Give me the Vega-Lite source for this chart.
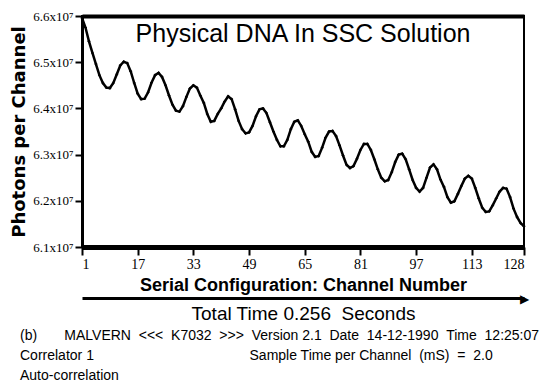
{
  "$schema": "https://vega.github.io/schema/vega-lite/v6.json",
  "width": 442,
  "height": 231,
  "autosize": {"type": "none"},
  "padding": {"left": 82, "top": 16, "right": 25, "bottom": 145},
  "background": "white",
  "datasets": {
    "counts": [
      {"channel": 1, "photons": 65960000}, {"channel": 2, "photons": 65750000}, {"channel": 3, "photons": 65450000}, {"channel": 4, "photons": 65200000},
      {"channel": 5, "photons": 64960000}, {"channel": 6, "photons": 64720000}, {"channel": 7, "photons": 64550000}, {"channel": 8, "photons": 64450000},
      {"channel": 9, "photons": 64440000}, {"channel": 10, "photons": 64550000}, {"channel": 11, "photons": 64740000}, {"channel": 12, "photons": 64930000},
      {"channel": 13, "photons": 65010000}, {"channel": 14, "photons": 64980000}, {"channel": 15, "photons": 64800000}, {"channel": 16, "photons": 64550000},
      {"channel": 17, "photons": 64320000}, {"channel": 18, "photons": 64200000}, {"channel": 19, "photons": 64210000}, {"channel": 20, "photons": 64350000},
      {"channel": 21, "photons": 64560000}, {"channel": 22, "photons": 64720000}, {"channel": 23, "photons": 64770000}, {"channel": 24, "photons": 64680000},
      {"channel": 25, "photons": 64500000}, {"channel": 26, "photons": 64280000}, {"channel": 27, "photons": 64080000}, {"channel": 28, "photons": 63950000},
      {"channel": 29, "photons": 63930000}, {"channel": 30, "photons": 64050000}, {"channel": 31, "photons": 64250000}, {"channel": 32, "photons": 64430000},
      {"channel": 33, "photons": 64500000}, {"channel": 34, "photons": 64450000}, {"channel": 35, "photons": 64280000}, {"channel": 36, "photons": 64120000},
      {"channel": 37, "photons": 63880000}, {"channel": 38, "photons": 63710000}, {"channel": 39, "photons": 63730000}, {"channel": 40, "photons": 63880000},
      {"channel": 41, "photons": 64000000}, {"channel": 42, "photons": 64150000}, {"channel": 43, "photons": 64260000}, {"channel": 44, "photons": 64200000},
      {"channel": 45, "photons": 63980000}, {"channel": 46, "photons": 63730000}, {"channel": 47, "photons": 63550000}, {"channel": 48, "photons": 63460000},
      {"channel": 49, "photons": 63480000}, {"channel": 50, "photons": 63620000}, {"channel": 51, "photons": 63830000}, {"channel": 52, "photons": 63980000},
      {"channel": 53, "photons": 64000000}, {"channel": 54, "photons": 63900000}, {"channel": 55, "photons": 63700000}, {"channel": 56, "photons": 63500000},
      {"channel": 57, "photons": 63320000}, {"channel": 58, "photons": 63180000}, {"channel": 59, "photons": 63180000}, {"channel": 60, "photons": 63320000},
      {"channel": 61, "photons": 63550000}, {"channel": 62, "photons": 63710000}, {"channel": 63, "photons": 63740000}, {"channel": 64, "photons": 63620000},
      {"channel": 65, "photons": 63440000}, {"channel": 66, "photons": 63280000}, {"channel": 67, "photons": 63060000}, {"channel": 68, "photons": 62950000},
      {"channel": 69, "photons": 62970000}, {"channel": 70, "photons": 63150000}, {"channel": 71, "photons": 63370000}, {"channel": 72, "photons": 63500000},
      {"channel": 73, "photons": 63510000}, {"channel": 74, "photons": 63400000}, {"channel": 75, "photons": 63200000}, {"channel": 76, "photons": 62980000},
      {"channel": 77, "photons": 62780000}, {"channel": 78, "photons": 62710000}, {"channel": 79, "photons": 62750000}, {"channel": 80, "photons": 62910000},
      {"channel": 81, "photons": 63100000}, {"channel": 82, "photons": 63230000}, {"channel": 83, "photons": 63230000}, {"channel": 84, "photons": 63100000},
      {"channel": 85, "photons": 62900000}, {"channel": 86, "photons": 62680000}, {"channel": 87, "photons": 62500000}, {"channel": 88, "photons": 62420000},
      {"channel": 89, "photons": 62450000}, {"channel": 90, "photons": 62620000}, {"channel": 91, "photons": 62840000}, {"channel": 92, "photons": 63000000},
      {"channel": 93, "photons": 63020000}, {"channel": 94, "photons": 62900000}, {"channel": 95, "photons": 62680000}, {"channel": 96, "photons": 62450000},
      {"channel": 97, "photons": 62280000}, {"channel": 98, "photons": 62200000}, {"channel": 99, "photons": 62280000}, {"channel": 100, "photons": 62500000},
      {"channel": 101, "photons": 62720000}, {"channel": 102, "photons": 62790000}, {"channel": 103, "photons": 62680000}, {"channel": 104, "photons": 62460000},
      {"channel": 105, "photons": 62300000}, {"channel": 106, "photons": 62080000}, {"channel": 107, "photons": 61960000}, {"channel": 108, "photons": 61990000},
      {"channel": 109, "photons": 62150000}, {"channel": 110, "photons": 62320000}, {"channel": 111, "photons": 62480000}, {"channel": 112, "photons": 62540000},
      {"channel": 113, "photons": 62480000}, {"channel": 114, "photons": 62280000}, {"channel": 115, "photons": 62050000}, {"channel": 116, "photons": 61850000},
      {"channel": 117, "photons": 61760000}, {"channel": 118, "photons": 61770000}, {"channel": 119, "photons": 61900000}, {"channel": 120, "photons": 62050000},
      {"channel": 121, "photons": 62200000}, {"channel": 122, "photons": 62280000}, {"channel": 123, "photons": 62260000}, {"channel": 124, "photons": 62080000},
      {"channel": 125, "photons": 61830000}, {"channel": 126, "photons": 61650000}, {"channel": 127, "photons": 61520000}, {"channel": 128, "photons": 61450000}
    ],
    "heading": [{"label": "Physical DNA In SSC Solution"}]
  },
  "title": {
    "text": "(b)\u00a0\u00a0\u00a0\u00a0\u00a0\u00a0\u00a0MALVERN \u00a0<<< \u00a0K7032 \u00a0>>> \u00a0Version 2.1 \u00a0Date \u00a014-12-1990 \u00a0Time \u00a012:25:07",
    "subtitle": [
      "\u00a0\u00a0\u00a0\u00a0\u00a0\u00a0\u00a0\u00a0\u00a0\u00a0\u00a0Correlator 1\u00a0\u00a0\u00a0\u00a0\u00a0\u00a0\u00a0\u00a0\u00a0\u00a0\u00a0\u00a0\u00a0\u00a0\u00a0\u00a0\u00a0\u00a0\u00a0\u00a0\u00a0\u00a0\u00a0\u00a0\u00a0\u00a0\u00a0\u00a0\u00a0\u00a0\u00a0\u00a0\u00a0\u00a0\u00a0\u00a0\u00a0\u00a0\u00a0\u00a0Sample Time per Channel \u00a0(mS) \u00a0= \u00a02.0",
      "\u00a0\u00a0\u00a0\u00a0\u00a0\u00a0\u00a0\u00a0\u00a0\u00a0\u00a0Auto-correlation"
    ],
    "orient": "bottom",
    "anchor": "start",
    "frame": "group",
    "dx": -62,
    "offset": 6,
    "font": "Liberation Sans",
    "fontSize": 14,
    "fontWeight": "normal",
    "color": "black",
    "subtitleFont": "Liberation Sans",
    "subtitleFontSize": 14,
    "subtitleColor": "black",
    "subtitlePadding": 6,
    "subtitleLineHeight": 20
  },
  "config": {
    "view": {"stroke": "black", "strokeWidth": 2},
    "axis": {"grid": false, "domainColor": "black", "tickColor": "black", "labelColor": "black", "titleColor": "black"}
  },
  "resolve": {"scale": {"x": "independent"}, "axis": {"x": "independent"}},
  "layer": [
    {
      "data": {"name": "counts"},
      "mark": {"type": "line", "color": "black", "strokeWidth": 2.5, "interpolate": "linear"},
      "encoding": {
        "x": {
          "field": "channel", "type": "quantitative",
          "scale": {"domain": [1, 128], "nice": false, "zero": false},
          "axis": {
            "orient": "bottom",
            "values": [1, 17, 33, 49, 65, 81, 97, 113, 128],
            "domainWidth": 5, "tickSize": 8, "tickWidth": 2, "labelPadding": 2,
            "labelFont": "Liberation Sans Narrow", "labelFontSize": 14,
            "title": "Serial Configuration: Channel Number",
            "titleFont": "Liberation Sans", "titleFontSize": 18, "titleFontWeight": "bold", "titlePadding": 5
          }
        },
        "y": {
          "field": "photons", "type": "quantitative",
          "scale": {"domain": [61000000, 66000000], "nice": false, "zero": false},
          "axis": {
            "values": [61000000, 62000000, 63000000, 64000000, 65000000, 66000000],
            "labelExpr": "format(datum.value / 10000000, '.1f') + 'x10⁷'",
            "domainWidth": 3, "tickSize": 7, "tickWidth": 2, "labelPadding": 2,
            "labelFont": "Liberation Sans Narrow", "labelFontSize": 13,
            "title": "Photons per Channel",
            "titleFont": "DejaVu Sans", "titleFontSize": 18, "titleFontWeight": "bold", "titlePadding": 4
          }
        }
      }
    },
    {
      "data": {"name": "heading"},
      "mark": {"type": "text", "font": "Liberation Sans", "fontSize": 25, "color": "black", "baseline": "middle", "align": "center"},
      "encoding": {
        "x": {
          "datum": 64.5, "type": "quantitative",
          "scale": {"domain": [1, 128], "nice": false, "zero": false},
          "axis": {"orient": "top", "domainWidth": 4, "ticks": false, "labels": false, "title": null}
        },
        "y": {"datum": 65620000, "type": "quantitative"},
        "text": {"field": "label"}
      }
    },
    {
      "data": {"name": "counts"},
      "mark": {"type": "point", "shape": "cross", "filled": true, "size": 8, "color": "black", "opacity": 1},
      "encoding": {
        "x": {
          "field": "channel", "type": "quantitative",
          "scale": {"domain": [1, 128], "nice": false, "zero": false},
          "axis": {
            "orient": "bottom", "offset": 51,
            "values": [128], "labelExpr": "'▶'",
            "ticks": false, "tickSize": 0, "domainWidth": 3,
            "labelFont": "DejaVu Sans", "labelFontSize": 12, "labelBaseline": "middle", "labelAlign": "center", "labelPadding": 0,
            "title": "Total Time 0.256 \u00a0Seconds\u00a0\u00a0\u00a0\u00a0\u00a0\u00a0",
            "titleFont": "Liberation Sans", "titleFontSize": 19, "titleFontWeight": "normal", "titlePadding": 0
          }
        },
        "y": {"field": "photons", "type": "quantitative"}
      }
    }
  ]
}
